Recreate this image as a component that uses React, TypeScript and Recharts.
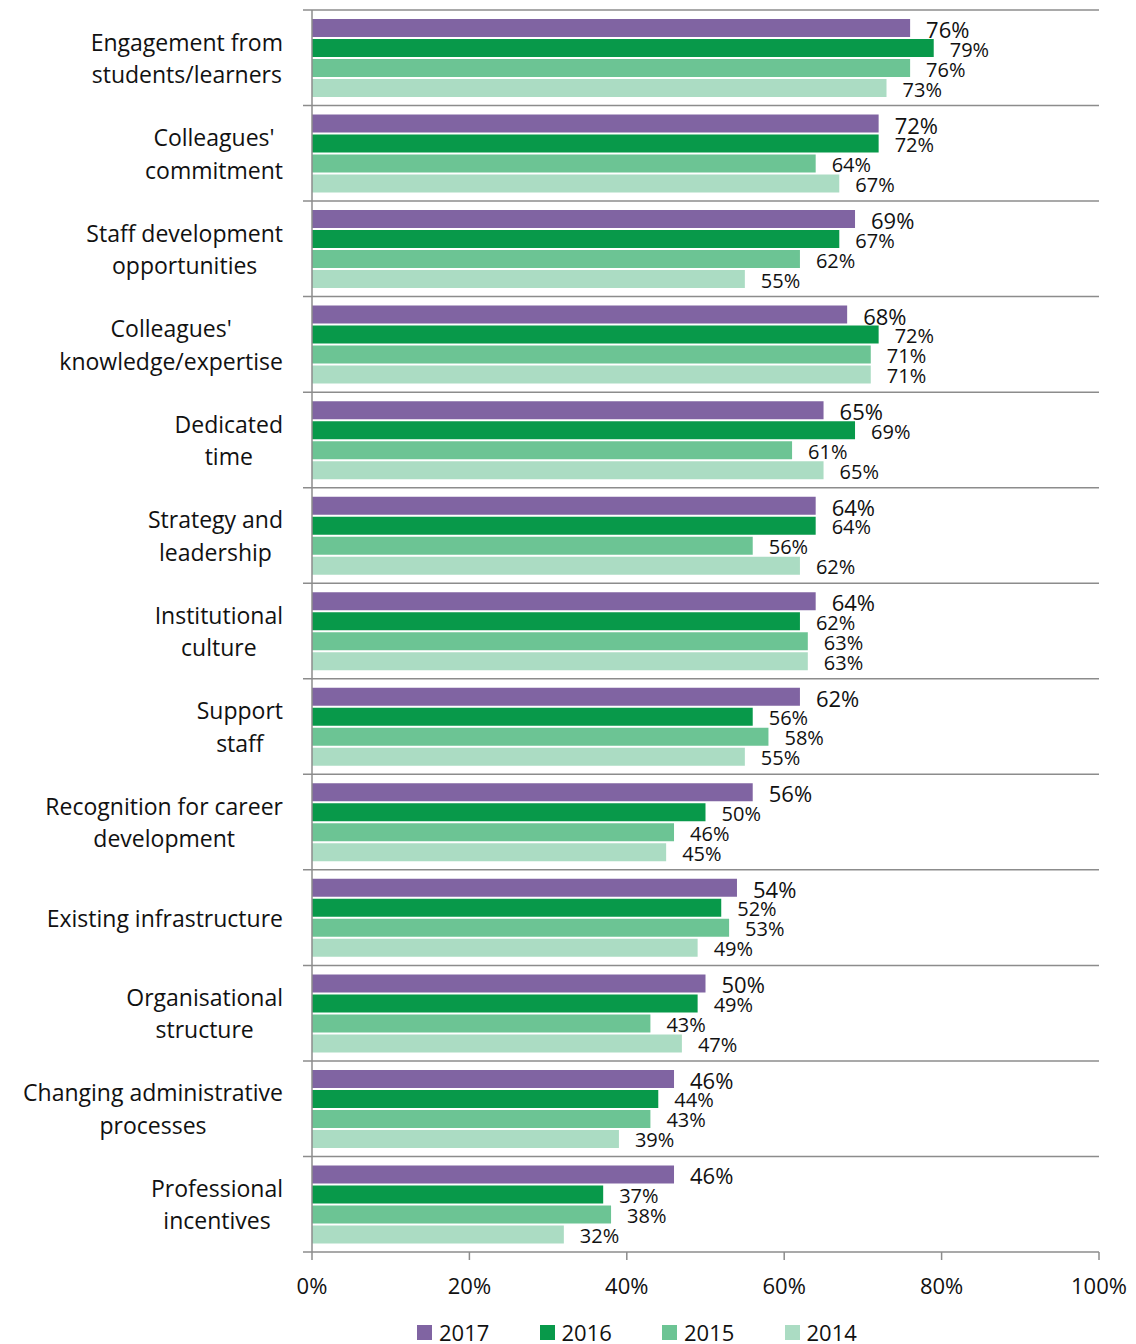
import React from 'react';
import { BarChart, Bar, XAxis, YAxis, Legend, LabelList } from 'recharts';

const categories = [
  'Engagement from\nstudents/learners',
  "Colleagues'\ncommitment",
  'Staff development\nopportunities',
  "Colleagues'\nknowledge/expertise",
  'Dedicated\ntime',
  'Strategy and\nleadership',
  'Institutional\nculture',
  'Support\nstaff',
  'Recognition for career\ndevelopment',
  'Existing infrastructure',
  'Organisational\nstructure',
  'Changing administrative\nprocesses',
  'Professional\nincentives',
];

const values2017 = [76, 72, 69, 68, 65, 64, 64, 62, 56, 54, 50, 46, 46];
const values2016 = [79, 72, 67, 72, 69, 64, 62, 56, 50, 52, 49, 44, 37];
const values2015 = [76, 64, 62, 71, 61, 56, 63, 58, 46, 53, 43, 43, 38];
const values2014 = [73, 67, 55, 71, 65, 62, 63, 55, 45, 49, 47, 39, 32];

const seriesNames = ['2017', '2016', '2015', '2014'];
const seriesColors = ['#8064A2', '#08994A', '#6CC494', '#ABDCC3'];
const xTicks = [0, 20, 40, 60, 80, 100];

const data = categories.map((cat, i) => ({
  cat,
  y2017: values2017[i],
  y2016: values2016[i],
  y2015: values2015[i],
  y2014: values2014[i],
}));

const W = 1136;
const H = 1344;
const MARGIN = { top: 10, right: 37, left: 0, bottom: 0 };
const YAXIS_W = 312;
const XAXIS_H = 50;
const LEGEND_H = 42;
const PLOT_LEFT = MARGIN.left + YAXIS_W;
const PLOT_RIGHT = W - MARGIN.right;
const PLOT_H = H - MARGIN.top - MARGIN.bottom - XAXIS_H - LEGEND_H;
const BAND = PLOT_H / categories.length;
const FONT = '"Open Sans", sans-serif';
const GRID = '#8c8c8c';
const LABEL_RIGHT = 283;

let ctx: CanvasRenderingContext2D | null = null;
function measure(text: string, size: number) {
  if (!ctx) {
    const c = document.createElement('canvas');
    ctx = c.getContext('2d');
  }
  if (!ctx) return text.length * size * 0.5;
  ctx.font = `${size}px "Open Sans"`;
  return ctx.measureText(text).width;
}

const CategoryTick = (props: any) => {
  const { y, payload, index } = props;
  const lines: string[] = String(payload.value).split('\n');
  const size = 23;
  const lh = 32.5;
  const w = Math.max(...lines.map((l) => measure(l, size)));
  const cx = LABEL_RIGHT - w / 2;
  const top = y - BAND / 2;
  return (
    <g>
      <line x1={PLOT_LEFT - 9} x2={PLOT_RIGHT} y1={top} y2={top} stroke={GRID} strokeWidth={1.5} />
      {index === categories.length - 1 && (
        <line x1={PLOT_LEFT - 9} x2={PLOT_LEFT} y1={top + BAND} y2={top + BAND} stroke={GRID} strokeWidth={1.5} />
      )}
      <text textAnchor="middle" fontFamily={FONT} fontSize={size} fill="#111">
        {lines.map((l, i) => (
          <tspan key={i} x={cx} y={y + (i - (lines.length - 1) / 2) * lh} dominantBaseline="central">
            {l}
          </tspan>
        ))}
      </text>
    </g>
  );
};

const makeValueLabel = (size: number) => (props: any) => {
  const { x, y, width, height, value } = props;
  return (
    <text
      x={Number(x) + Number(width) + 16}
      y={Number(y) + Number(height) / 2 + 1}
      dominantBaseline="central"
      fontFamily={FONT}
      fontSize={size}
      fill="#111"
    >
      {value}%
    </text>
  );
};

const LegendContent = () => (
  <div style={{ display: 'flex', paddingLeft: 417, paddingTop: 17, fontFamily: FONT, fontSize: 22, color: '#111' }}>
    {seriesNames.map((n, i) => (
      <div key={n} style={{ display: 'flex', alignItems: 'center', width: 122.5 }}>
        <span style={{ display: 'inline-block', width: 15, height: 15, background: seriesColors[i], marginRight: 7 }} />
        <span style={{ lineHeight: '26px' }}>{n}</span>
      </div>
    ))}
  </div>
);

export default function App() {
  const keys = ['y2017', 'y2016', 'y2015', 'y2014'];
  return (
    <div style={{ position: 'absolute', left: 0, top: 0, width: W, height: H, background: '#fff' }}>
      <BarChart
        width={W}
        height={H}
        data={data}
        layout="vertical"
        margin={MARGIN}
        barSize={18}
        barGap={2}
      >
        <XAxis
          type="number"
          domain={[0, 100]}
          ticks={xTicks}
          tickFormatter={(v) => `${v}%`}
          axisLine={{ stroke: GRID, strokeWidth: 1.5 }}
          tickLine={{ stroke: GRID, strokeWidth: 1.5 }}
          tickSize={8}
          tickMargin={18}
          height={XAXIS_H}
          tick={{ fontFamily: FONT, fontSize: 22, fill: '#111' }}
          interval={0}
        />
        <YAxis
          type="category"
          dataKey="cat"
          width={YAXIS_W}
          axisLine={{ stroke: GRID, strokeWidth: 1.5 }}
          tickLine={false}
          tick={<CategoryTick />}
          interval={0}
        />
        <Legend verticalAlign="bottom" height={LEGEND_H} content={<LegendContent />} />
        {keys.map((k, i) => (
          <Bar key={k} dataKey={k} name={seriesNames[i]} fill={seriesColors[i]} isAnimationActive={false}>
            <LabelList dataKey={k} content={makeValueLabel(i === 0 ? 22 : 20)} />
          </Bar>
        ))}
      </BarChart>
    </div>
  );
}
